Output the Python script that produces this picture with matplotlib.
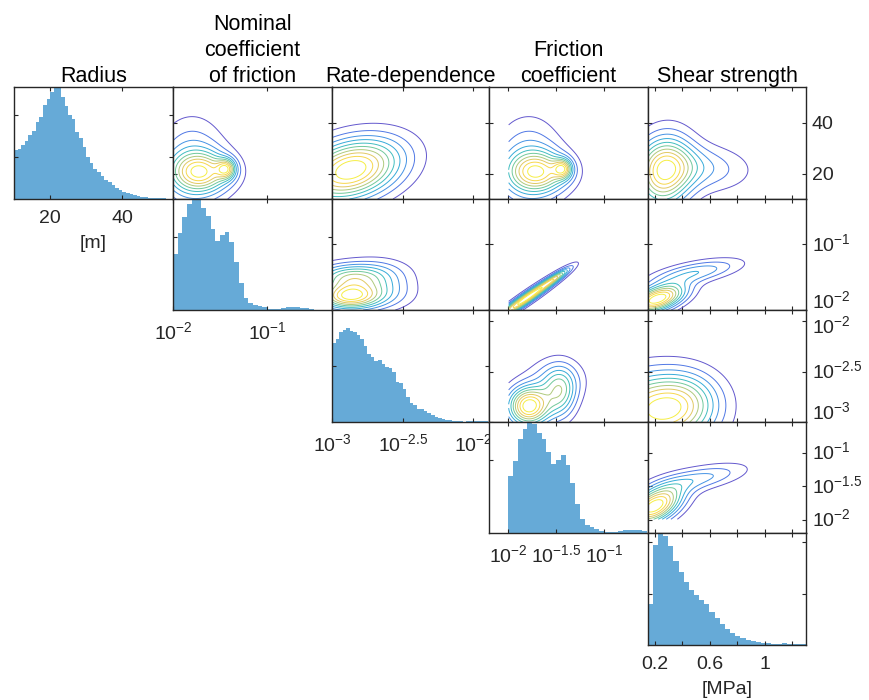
import numpy as np
import matplotlib.pyplot as plt
from matplotlib.colors import LinearSegmentedColormap
from matplotlib.transforms import ScaledTranslation, blended_transform_factory

plt.rcParams['font.family'] = ['Liberation Sans', 'DejaVu Sans']
plt.rcParams['mathtext.fontset'] = 'custom'
plt.rcParams['mathtext.rm'] = 'Liberation Sans'
plt.rcParams['mathtext.it'] = 'Liberation Sans:italic'
plt.rcParams['mathtext.bf'] = 'Liberation Sans:bold'

titles = ['Radius', 'Nominal\ncoefficient\nof friction', 'Rate-dependence',
          'Friction\ncoefficient', 'Shear strength']
units = ['[m]', '', '', '', '[MPa]']

# histogram counts (friction / rate values binned in log10)
radius_counts = [588, 604, 652, 692, 768, 808, 920, 984, 1120, 1200, 1280, 1332, 1340, 1220,
                 1108, 1000, 952, 800, 732, 620, 508, 428, 360, 320, 276, 232, 200, 168, 136,
                 108, 88, 68, 56, 44, 32, 24, 20, 16, 12, 12, 8, 8, 4, 4]
mu0_counts = [768, 1053, 1274, 1458, 1518, 1513, 1408, 1297, 1113, 948, 1035, 1076, 929, 662,
              368, 161, 101, 69, 55, 37, 18, 9, 14, 28, 37, 41, 41, 32, 23, 14, 5, 0, 0, 0]
a_counts = [702, 741, 807, 822, 837, 810, 807, 780, 738, 681, 606, 576, 546, 555, 516, 489,
            486, 450, 360, 351, 297, 222, 174, 150, 120, 117, 99, 78, 63, 45, 33, 24, 18, 15,
            12, 9, 6, 3, 9, 9, 6, 12, 6, 6]
mu_counts = [0, 0, 0, 0, 791, 984, 1288, 1435, 1518, 1504, 1380, 1288, 1113, 952, 1007, 1067,
             938, 690, 400, 193, 115, 78, 51, 32, 14, 14, 18, 28, 37, 41, 41, 37, 23]
tau_counts = [800, 1950, 2178, 2126, 1918, 1638, 1424, 1216, 1073, 975, 878, 800, 644, 527,
              410, 312, 234, 176, 137, 98, 78, 59, 39, 33, 26, 26, 39, 20, 20, 20, 20]
counts = [radius_counts, mu0_counts, a_counts, mu_counts, tau_counts]
bin_start = [10.0, -2.0, -3.0, -2.2, 0.1475]
bin_width = [1.0, 0.05, 0.025, 0.05, 0.0375]
hist_top = [1340, 1527, 1000, 1527, 2178]
hist_yticks = [[500, 1000], [1000], [500], [1000], [1000, 2000]]

lims = [(10, 54), (-2.0, -0.31), (-3.0, -1.89), (-2.2, -0.54), (0.15, 1.3)]
ticks = [[20, 40], [-2, -1], [-3, -2.5, -2], [-2, -1.5, -1], [0.2, 0.4, 0.6, 0.8, 1.0, 1.2]]
tick_labels = [['20', '40'], ['$10^{-2}$', '$10^{-1}$'],
               ['$10^{-3}$', '$10^{-2.5}$', '$10^{-2}$'],
               ['$10^{-2}$', '$10^{-1.5}$', '$10^{-1}$'],
               ['0.2', '', '0.6', '', '1', '']]
data_min = [None, -2.0, -3.0, -2.0, None]
right_shift = {1: [-8, 0], 2: [-9, 0, 6]}

# density blobs for the contour panels: (u, v, su, sv, rho, weight) in axes fractions
blobs = {
    (0, 1): [(0.18, 0.24, 0.13, 0.12, 0.0, 0.6), (0.12, 0.30, 0.14, 0.27, 0.0, 0.3),
             (0.335, 0.27, 0.04, 0.06, 0.0, 0.5)],
    (0, 2): [(0.12, 0.26, 0.22, 0.19, 0.3, 1.0)],
    (0, 3): [(0.31, 0.24, 0.13, 0.12, 0.0, 0.6), (0.25, 0.30, 0.14, 0.27, 0.0, 0.3),
             (0.465, 0.27, 0.04, 0.06, 0.0, 0.5)],
    (0, 4): [(0.10, 0.24, 0.12, 0.22, 0.1, 1.0), (0.30, 0.28, 0.22, 0.14, -0.1, 0.35)],
    (1, 2): [(0.10, 0.12, 0.13, 0.08, 0.0, 1.0), (0.10, 0.30, 0.15, 0.08, 0.0, 0.6),
             (0.30, 0.15, 0.15, 0.10, 0.0, 0.35), (0.30, 0.33, 0.15, 0.10, 0.0, 0.25)],
    (1, 3): [(0.24, 0.11, 0.14, 0.14, 0.96, 1.0), (0.42, 0.29, 0.06, 0.06, 0.9, 0.35)],
    (1, 4): [(0.06, 0.10, 0.12, 0.09, 0.5, 1.0), (0.30, 0.34, 0.19, 0.08, 0.6, 0.35)],
    (2, 3): [(0.25, 0.14, 0.09, 0.12, 0.0, 1.0), (0.45, 0.25, 0.07, 0.15, 0.0, 0.45),
             (0.42, 0.38, 0.12, 0.13, 0.0, 0.25)],
    (2, 4): [(0.05, 0.10, 0.22, 0.22, 0.0, 1.0), (0.25, 0.20, 0.15, 0.18, 0.0, 0.3)],
    (3, 4): [(0.04, 0.24, 0.12, 0.12, 0.5, 1.0), (0.32, 0.49, 0.20, 0.09, 0.6, 0.3)],
}

parula = LinearSegmentedColormap.from_list('parula', [
    '#5246c8', '#3a6ee6', '#2e8fe0', '#1aabd0', '#3dbfa5', '#8fc77a', '#d6bf5a',
    '#f6cf3a', '#f4ec30'])
hist_color = '#66aad7'
ink = '#262626'

fig = plt.figure(figsize=(8.7, 7.0), dpi=100)
W, H = 870, 700
col_x = [14, 173, 332, 489, 648, 806]
row_y = [87, 199, 310, 422, 533, 645]

for r in range(5):
    for c in range(r, 5):
        ax = fig.add_axes([col_x[c] / W, 1 - row_y[r + 1] / H,
                           (col_x[c + 1] - col_x[c]) / W, (row_y[r + 1] - row_y[r]) / H])
        ax.set_xlim(lims[c])
        ax.set_xticks(ticks[c])
        if r == c:
            edges = bin_start[c] + bin_width[c] * np.arange(len(counts[c]) + 1)
            ax.stairs(counts[c], edges, fill=True, color=hist_color, linewidth=0)
            ax.set_ylim(0, hist_top[c])
            ax.set_yticks(hist_yticks[c])
            ax.set_yticklabels([])
            ax.set_xticklabels(tick_labels[c])
            if units[c]:
                ax.set_xlabel(units[c], fontsize=14, color=ink, labelpad=6)
        else:
            x = np.linspace(lims[c][0], lims[c][1], 300)
            y = np.linspace(lims[r][0], lims[r][1], 300)
            X, Y = np.meshgrid(x, y)
            U = (X - lims[c][0]) / (lims[c][1] - lims[c][0])
            V = (Y - lims[r][0]) / (lims[r][1] - lims[r][0])
            Z = np.zeros_like(U)
            for (u0, v0, su, sv, rho, w) in blobs[(r, c)]:
                du, dv = (U - u0) / su, (V - v0) / sv
                Z += w * np.exp(-0.5 / (1 - rho ** 2) * (du ** 2 - 2 * rho * du * dv + dv ** 2))
            if data_min[c] is not None:
                Z[X < data_min[c]] = np.nan
            if data_min[r] is not None:
                Z[Y < data_min[r]] = np.nan
            levels = np.nanmax(Z) * np.arange(1, 11) / 11
            cols = [parula(k / 9) for k in range(10)]
            ax.contour(X, Y, Z, levels=levels, colors=cols, linewidths=0.7, alpha=0.9)
            ax.set_ylim(lims[r])
            ax.set_yticks(ticks[r])
            ax.set_yticklabels([])
            ax.set_xticklabels([])
            if c == 4:
                trans = blended_transform_factory(ax.transAxes, ax.transData)
                shifts = right_shift.get(r, [0] * len(ticks[r]))
                for tv, tl, sh in zip(ticks[r], tick_labels[r], shifts):
                    off = ScaledTranslation(6 / 100, -(sh + 6.5) / 100, fig.dpi_scale_trans)
                    ax.text(1.0, tv, tl, transform=trans + off, ha='left', va='baseline',
                            fontsize=14, color=ink)
        ax.tick_params(direction='in', length=3, width=0.8, top=True, right=True,
                       labelsize=14, colors=ink, pad=8)
        for s in ax.spines.values():
            s.set_linewidth(1.0)
            s.set_color(ink)
        if r == 0:
            ax.set_title(titles[c], fontsize=15.5, color='black', pad=3.5, linespacing=1.3)

fig.savefig('out.png', dpi=100)
